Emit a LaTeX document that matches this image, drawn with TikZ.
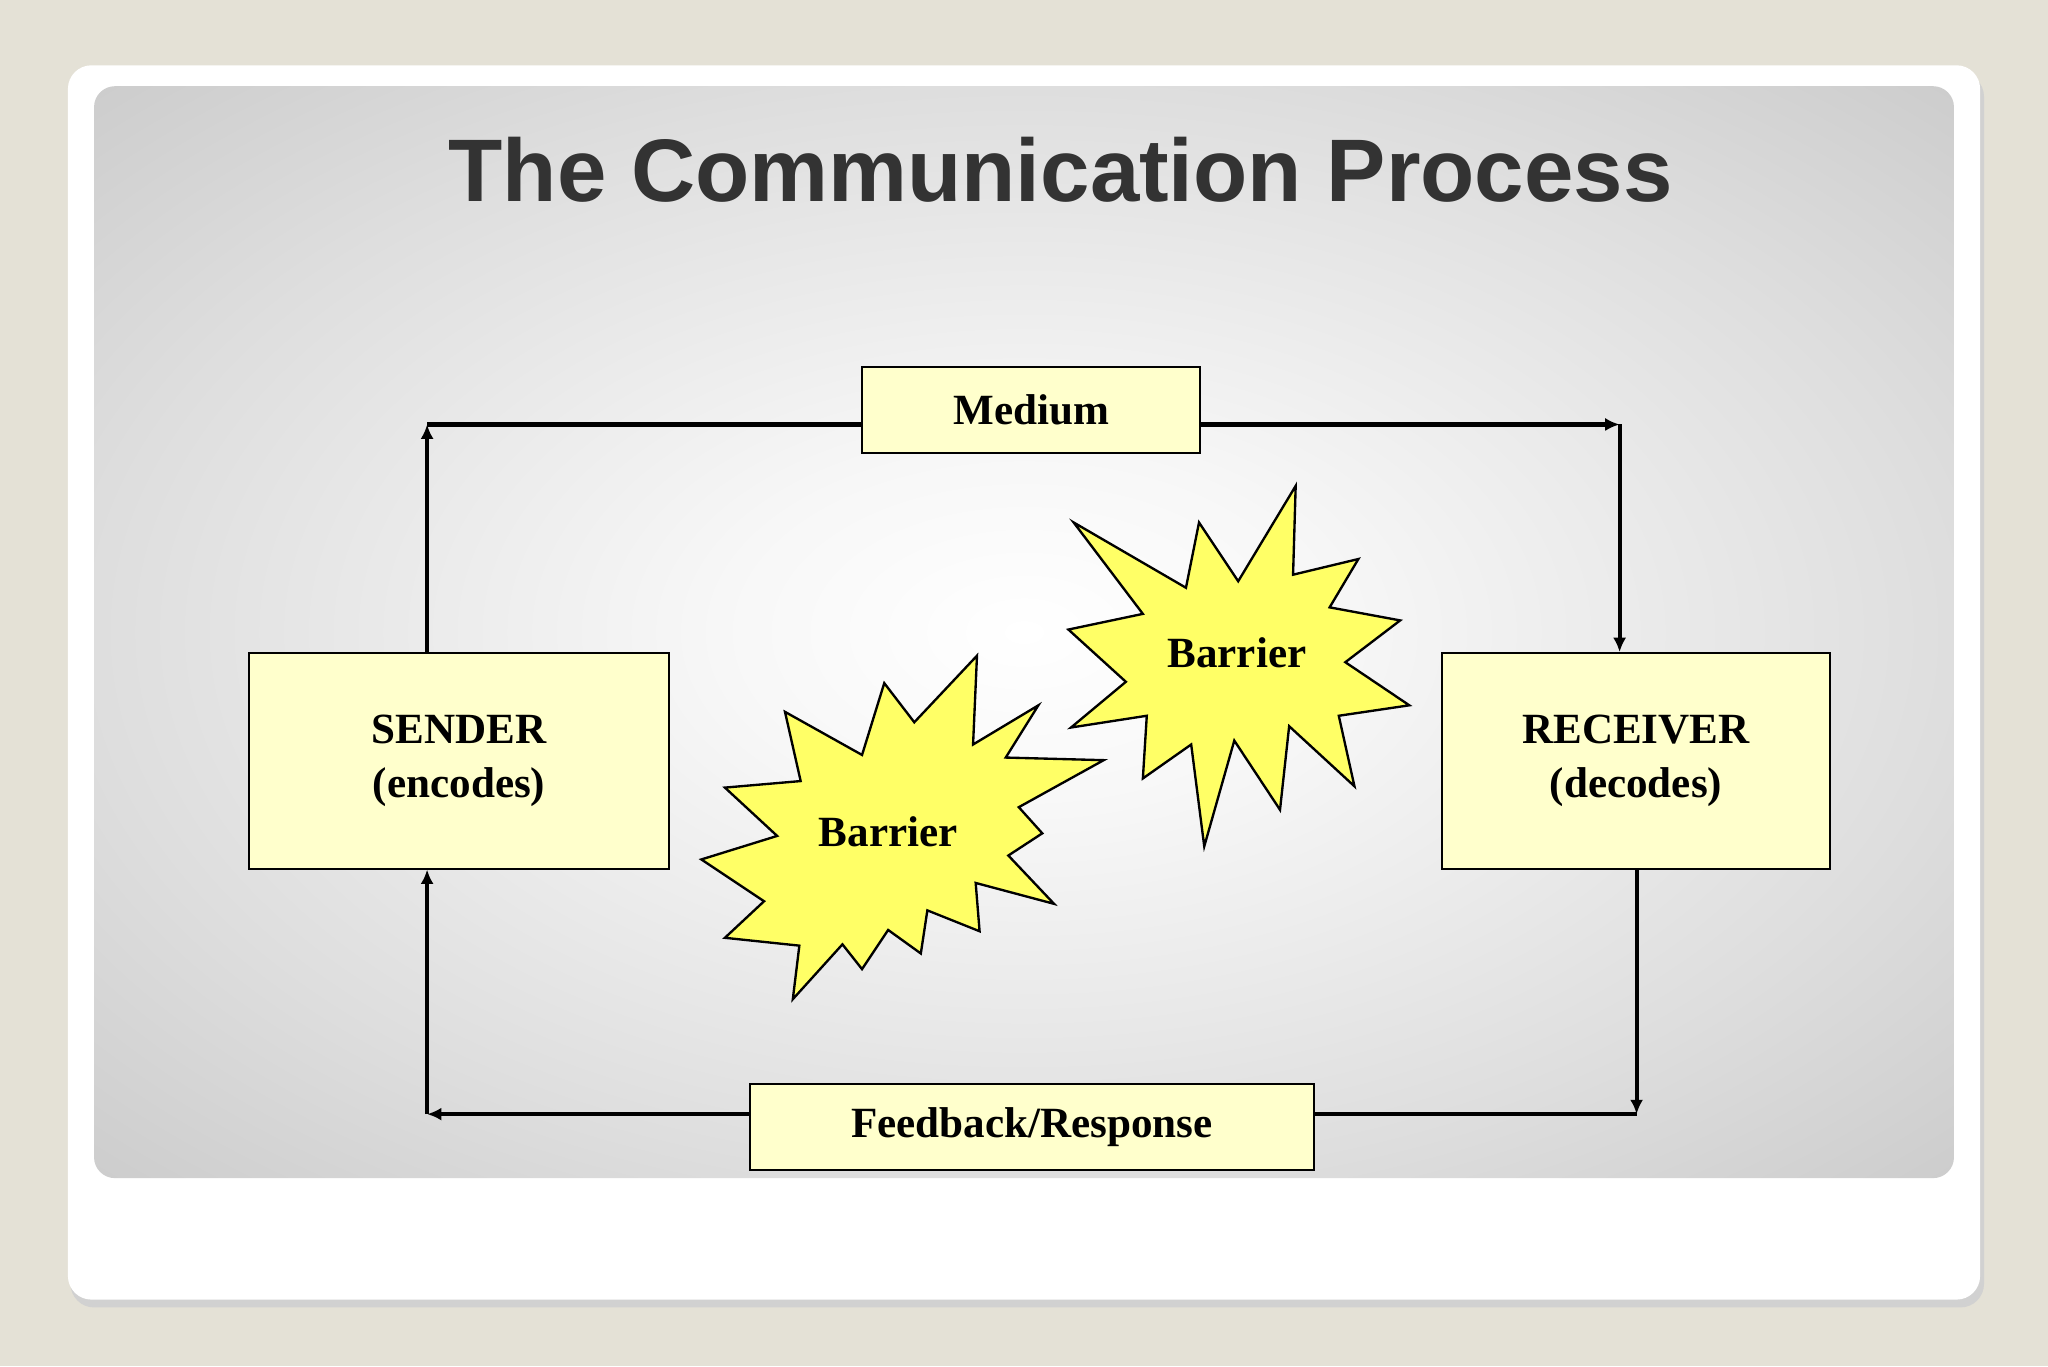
\documentclass[tikz,border=0pt]{standalone}
\usepackage{fontspec}
\setmainfont{Liberation Serif}
\newfontfamily\titlefont{Liberation Sans}
\usetikzlibrary{arrows.meta}
\definecolor{bgc}{HTML}{E4E1D6}
\definecolor{boxc}{HTML}{FFFFCC}
\definecolor{starc}{HTML}{FFFF66}
\pgfdeclareradialshading{panelshade}{\pgfpoint{0bp}{0bp}}{color(0bp)=(white); color(8bp)=(white!97!black); color(25bp)=(white!87!black); color(45bp)=(white!74!black); color(60bp)=(white!64!black); color(75bp)=(white!58!black)}
\begin{document}
\begin{tikzpicture}[x=1pt,y=-1pt,
  box/.style={draw=black,line width=1.5,fill=boxc,inner sep=0,align=center,font=\fontsize{33}{42}\selectfont\bfseries},
  ln/.style={line width=3.2},
  arr/.style={ln,-{Latex[length=11,width=10]}},
  star/.style={draw=black,line width=1.8,fill=starc}]
\fill[bgc] (0,0) rectangle (1568,1046);
\fill[black!18,rounded corners=18] (54,56) rectangle (1519,1001);
\fill[white,rounded corners=18] (52,50) rectangle (1516,995);
\shade[rounded corners=16,shading=panelshade] (72,66) rectangle (1496,902);
\node[font=\titlefont\fontsize{68}{72}\selectfont\bfseries,text=black!80] (title) at (812,130) {The Communication Process};
\node[box,minimum width=259,minimum height=66] (med) at (789.5,314) {Medium};
\node[box,minimum width=321,minimum height=165] (snd) at (351.5,582.5) {SENDER\\(encodes)};
\node[box,minimum width=297,minimum height=165] (rcv) at (1252.5,582.5) {RECEIVER\\(decodes)};
\node[box,minimum width=432,minimum height=66] (fb) at (790,863) {Feedback/Response};
\coordinate (c1) at (327,325);
\coordinate (c2) at (1240,325);
\coordinate (c3) at (1253,853);
\coordinate (c4) at (327,853);
\draw[arr] (snd.north -| c1) -- (c1);
\draw[ln] (c1) -- (med.west |- c1);
\draw[arr] (med.east |- c2) -- (c2);
\draw[arr] (c2) -- (rcv.north -| c2);
\draw[arr] (rcv.south -| c3) -- (c3);
\draw[ln] (fb.east |- c3) -- (c3);
\draw[arr] (fb.west |- c4) -- (c4);
\draw[arr] (c4) -- (snd.south -| c4);
\draw[star] (607,765)--(645,723)--(660,742)--(680,712)--(705,730)--(710,697)--(750,713)--(747,676)--(807,692)--(772,655)--(798,638)--(780,618)--(845,582)--(770,580)--(795,540)--(745,570)--(748,502)--(700,553)--(677,523)--(660,578)--(601,545)--(613,598)--(555,603)--(595,640)--(537,658)--(585,690)--(555,718)--(612,724)--cycle;
\draw[star] (922,648)--(945,567)--(980,620)--(987,556)--(1037,602)--(1025,548)--(1079,540)--(1030,507)--(1072,475)--(1018,465)--(1040,428)--(990,440)--(992,372)--(948,445)--(918,400)--(908,450)--(822,400)--(875,470)--(818,482)--(862,522)--(820,557)--(878,548)--(875,596)--(912,570)--cycle;
\node[font=\fontsize{33}{40}\selectfont\bfseries] (b1) at (680,637) {Barrier};
\node[font=\fontsize{33}{40}\selectfont\bfseries] (b2) at (947,500) {Barrier};
\end{tikzpicture}
\end{document}
